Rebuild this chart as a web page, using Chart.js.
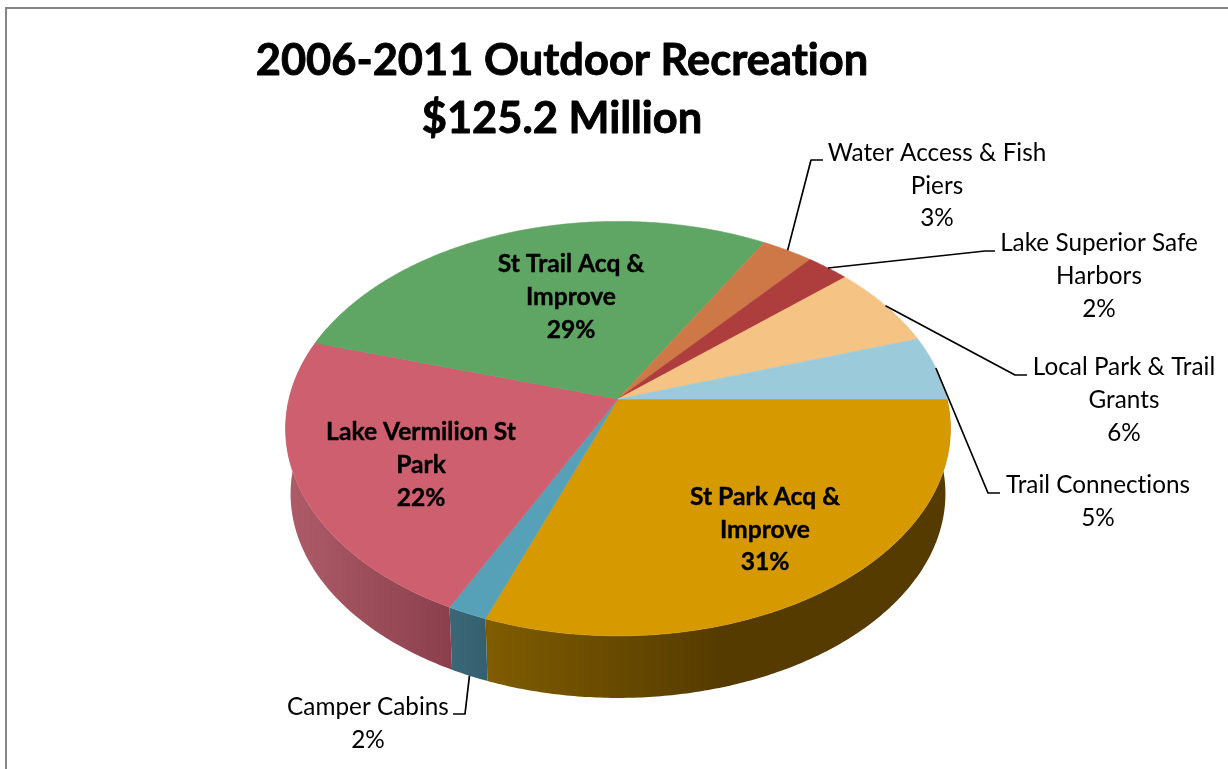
<!DOCTYPE html>
<html>
<head>
<meta charset="utf-8">
<title>2006-2011 Outdoor Recreation</title>
<script src="https://cdn.jsdelivr.net/npm/chart.js@4"></script>
<style>
  html, body { margin: 0; padding: 0; background: #fff; overflow: hidden; }
  #frame { position: absolute; left: 5px; top: 7px; right: -4px; bottom: -4px; border: 2px solid #868686; }
  #pie { position: absolute; left: 0; top: 0; }
</style>
</head>
<body>
<div id="frame"></div>
<canvas id="pie" width="1228" height="769"></canvas>
<script>
const titleLines = ['2006-2011 Outdoor Recreation', '$125.2 Million'];
const categories = ['St Park Acq & Improve', 'Camper Cabins', 'Lake Vermilion St Park', 'St Trail Acq & Improve',
  'Water Access & Fish Piers', 'Lake Superior Safe Harbors', 'Local Park & Trail Grants', 'Trail Connections'];
const shares = [30.7, 1.7, 22.3, 28.7, 2.9, 2.4, 6.4, 5.0];
const faceColors = ['#d69a00', '#56a1b8', '#cd5f6f', '#5fa563', '#ce7847', '#ae3e3e', '#f5c383', '#9bcbda'];
// wall gradient, left to right
const wallColors = [['#7f5c00', '#553b00'], ['#3a6675', '#336070'], ['#ae5b68', '#8a3f4c'], ['#3f6e42', '#3f6e42'],
  ['#8a5030', '#8a5030'], ['#742929', '#742929'], ['#a38257', '#a38257'], ['#678792', '#678792']];

// perspective of the pie plane
const squash = 203, tilt = 0.143, depth = 65.6, wallScale = 0.985, wallFade = 230;
const font = 'Lato, Carlito, sans-serif';

// text and leader layout, in the same order as categories
const labelLayout = [
  { x: 765, y: 497.5, gap: 32.5, lines: ['St Park Acq &', 'Improve'], bold: true },
  { x: 368, y: 707.5, gap: 32.5, lines: ['Camper Cabins'], elbow: [[465, 714], [453, 714]], wall: true },
  { x: 421, y: 432.5, gap: 33, lines: ['Lake Vermilion St', 'Park'], bold: true },
  { x: 571, y: 264.5, gap: 33, lines: ['St Trail Acq &', 'Improve'], bold: true },
  { x: 937, y: 153.5, gap: 32.5, lines: ['Water Access & Fish', 'Piers'], elbow: [[811, 160], [823, 160]] },
  { x: 1099, y: 243.5, gap: 33, lines: ['Lake Superior Safe', 'Harbors'], elbow: [[985, 251], [995, 251]] },
  { x: 1124, y: 367.5, gap: 33, lines: ['Local Park & Trail', 'Grants'], elbow: [[1015, 375], [1027, 375]] },
  { x: 1098, y: 485.5, gap: 33, lines: ['Trail Connections'], elbow: [[988, 493], [1000, 493]] }
];

// point on the rim (or on the lower rim when low is set) for a chart angle
function rimPoint(el, angle, low) {
  const u = Math.cos(angle), v = Math.sin(angle), w = 1 - tilt * v;
  const s = low ? wallScale : 1;
  return [el.x + s * el.outerRadius * u / w, el.y + (low ? depth : 0) + s * squash * v / w];
}

function traceRim(ctx, el, from, to, low) {
  const steps = Math.max(2, Math.ceil(Math.abs(to - from) / 0.01));
  for (let i = 0; i <= steps; i++) {
    const p = rimPoint(el, from + (to - from) * i / steps, low);
    ctx.lineTo(p[0], p[1]);
  }
}

const pie3d = {
  id: 'pie3d',
  beforeDatasetsDraw(chart) {
    const ctx = chart.ctx;
    const arcs = chart.getDatasetMeta(0).data;
    const limit = Math.PI * 1.12;

    // side wall, only the part that faces the viewer
    arcs.forEach((el, i) => {
      if (el.startAngle >= limit) return;
      const to = Math.min(el.endAngle, limit);
      let left = Infinity, right = -Infinity;
      for (let t = el.startAngle; t <= to; t += 0.01) {
        const x = rimPoint(el, t, true)[0];
        left = Math.min(left, x);
        right = Math.max(right, x);
      }
      const grad = ctx.createLinearGradient(left, 0, Math.min(right, left + wallFade), 0);
      grad.addColorStop(0, wallColors[i][0]);
      grad.addColorStop(1, wallColors[i][1]);
      ctx.beginPath();
      traceRim(ctx, el, el.startAngle, to, false);
      traceRim(ctx, el, to, el.startAngle, true);
      ctx.closePath();
      ctx.fillStyle = grad;
      ctx.fill();
    });

    // top face
    arcs.forEach((el, i) => {
      ctx.beginPath();
      ctx.moveTo(el.x, el.y);
      traceRim(ctx, el, el.startAngle, el.endAngle, false);
      ctx.closePath();
      ctx.fillStyle = faceColors[i];
      ctx.strokeStyle = faceColors[i];
      ctx.lineWidth = 0.6;
      ctx.fill();
      ctx.stroke();
    });
    return false;
  },
  afterDraw(chart) {
    const ctx = chart.ctx;
    const arcs = chart.getDatasetMeta(0).data;
    ctx.save();
    ctx.fillStyle = '#000';
    ctx.textAlign = 'center';
    ctx.textBaseline = 'middle';
    ctx.letterSpacing = '0.01px'; // keeps Lato from joining "ti"

    // bold text gets a thin outline, Lato bold is lighter than the original face
    ctx.strokeStyle = '#000';
    ctx.lineJoin = 'round';
    ctx.font = 'bold 43.4px ' + font;
    ctx.lineWidth = 0.9;
    titleLines.forEach((line, i) => {
      ctx.fillText(line, 562, 61 + i * 58);
      ctx.strokeText(line, 562, 61 + i * 58);
    });

    // leaders
    ctx.lineWidth = 1.7;
    labelLayout.forEach((spot, i) => {
      if (!spot.elbow) return;
      const el = arcs[i];
      const start = rimPoint(el, (el.startAngle + el.endAngle) / 2, spot.wall);
      ctx.beginPath();
      ctx.moveTo(start[0], start[1]);
      spot.elbow.forEach(p => ctx.lineTo(p[0], p[1]));
      ctx.stroke();
    });

    // labels
    ctx.lineWidth = 0.4;
    labelLayout.forEach((spot, i) => {
      ctx.font = (spot.bold ? 'bold 24.6px ' : '24.3px ') + font;
      const lines = spot.lines.concat(Math.round(shares[i]) + '%');
      lines.forEach((line, n) => {
        ctx.fillText(line, spot.x, spot.y + n * spot.gap);
        if (spot.bold) ctx.strokeText(line, spot.x, spot.y + n * spot.gap);
      });
    });
    ctx.restore();
  }
};

new Chart(document.getElementById('pie'), {
  type: 'pie',
  data: {
    labels: categories,
    datasets: [{ data: shares, backgroundColor: faceColors, borderWidth: 0 }]
  },
  options: {
    responsive: false,
    animation: false,
    rotation: 90,
    radius: 329,
    layout: { padding: { left: 8, top: 29 } },
    plugins: { legend: { display: false }, title: { display: false }, tooltip: { enabled: false } }
  },
  plugins: [pie3d]
});
</script>
</body>
</html>
